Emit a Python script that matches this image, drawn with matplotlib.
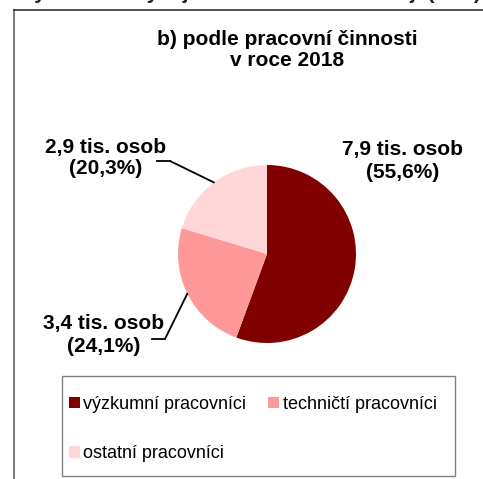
import matplotlib.pyplot as plt
import numpy as np
from matplotlib.lines import Line2D
from matplotlib.patches import Rectangle, ConnectionPatch

plt.rcParams['font.family'] = ['Liberation Sans', 'DejaVu Sans']

# data
categories = ['výzkumní pracovníci', 'techničtí pracovníci', 'ostatní pracovníci']
shares = [55.6, 24.1, 20.3]            # %
persons = ['7,9', '3,4', '2,9']        # tis. osob
colors = ['#800000', '#FF9999', '#FFD7D8']

W, H = 483, 479
fig = plt.figure(figsize=(W / 100, H / 100), dpi=100)

def fx(px):
    return px / W

def fy(py):
    return 1 - py / H

# cut-off heading of the previous line (only its bottom edge is visible)
fig.text(fx(481), fy(-1.0), 'Zaměstnanci ve výzkumu a vývoji ve Středočeském kraji (FTE)',
         ha='right', va='baseline', fontsize=15, fontweight='bold', color='#222222')

# chart frame (left + top)
fig.add_artist(Line2D([fx(14), fx(14)], [fy(10), fy(479)], color='#808080', lw=1.5))
fig.add_artist(Line2D([fx(14), fx(483)], [fy(10), fy(10)], color='#333333', lw=1.2))

# title
fig.text(fx(287), fy(50), 'b) podle pracovní činnosti\nv roce 2018', ha='center', va='center',
         fontsize=15, fontweight='bold', linespacing=1.1)

# pie
cx, cy, r = 267, 254, 89
ax = fig.add_axes([fx(cx - r), fy(cy + r), 2 * r / W, 2 * r / H])
wedges, _ = ax.pie(shares, colors=colors, startangle=90, counterclock=False, radius=1,
                   wedgeprops=dict(linewidth=0))
ax.set_xlim(-1, 1)
ax.set_ylim(-1, 1)
ax.set_aspect('equal')
ax.axis('off')

labels = ['%s tis. osob\n(%s%%)' % (p, ('%.1f' % s).replace('.', ',')) for p, s in zip(persons, shares)]
label_pos = [(403, 161), (104, 335), (106, 158)]
for lab, (lx, ly) in zip(labels, label_pos):
    fig.text(fx(lx), fy(ly), lab, ha='center', va='center', fontsize=15,
             fontweight='bold', linespacing=1.2)

# leader lines: (start x, elbow x, y) in pixels, ending at the wedge mid-angle
leaders = {1: (152, 165, 339), 2: (157, 170, 161)}
for i, (x0, x1, ly) in leaders.items():
    w = wedges[i]
    ang = np.deg2rad((w.theta1 + w.theta2) / 2)
    fig.add_artist(Line2D([fx(x0), fx(x1)], [fy(ly), fy(ly)], color='black', lw=1.3))
    con = ConnectionPatch(xyA=(fx(x1), fy(ly)), coordsA='figure fraction',
                          xyB=(np.cos(ang), np.sin(ang)), coordsB=ax.transData,
                          color='black', lw=1.3)
    fig.add_artist(con)

# legend (column-major fill: výzkumní / ostatní in column 1, techničtí in column 2)
order = [0, 2, 1]
fig.add_artist(Rectangle((fx(62), fy(476)), fx(455) - fx(62), fy(376) - fy(476),
                         transform=fig.transFigure, fill=False, edgecolor='#808080', lw=1))
fig.legend([wedges[i] for i in order], [categories[i] for i in order], loc='upper left',
           bbox_to_anchor=(fx(69), fy(396)), ncol=2, frameon=False, fontsize=13,
           handlelength=0.6, handleheight=0.6, handletextpad=0.2, columnspacing=1.2,
           labelspacing=1.8, borderpad=0, borderaxespad=0)

fig.savefig('out.png', dpi=100)
